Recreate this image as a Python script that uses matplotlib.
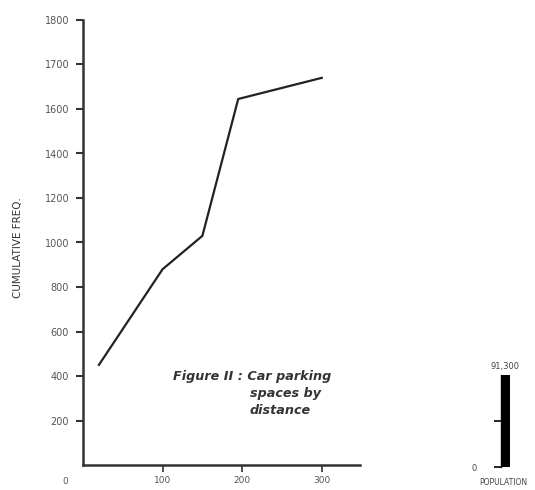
import matplotlib
matplotlib.use("Agg")
import matplotlib.pyplot as plt

# Data
distance = [20, 100, 150, 195, 300]
cum_freq = [450, 880, 1030, 1645, 1740]
y_tick_pos = [200, 400, 600, 800, 1000, 1200, 1400, 1600, 1800, 2000]
y_tick_labels = ['200', '400', '600', '800', '1000', '1200', '1400', '1600', '1700', '1800']
x_tick_pos = [100, 200, 300]
x_tick_labels = ['100', '200', '300']
population = 91300
pop_label = '91,300'

plt.rcParams['font.family'] = ['DejaVu Sans']
fig = plt.figure(figsize=(5.35, 4.9), dpi=100)

W, H = 535, 490
ax = fig.add_axes([83 / W, (H - 465) / H, (360 - 83) / W, (465 - 20) / H])
ax.plot(distance, cum_freq, color='#222222', lw=1.6)
ax.set_xlim(0, 348)
ax.set_ylim(0, 2000)
for s in ['top', 'right']:
    ax.spines[s].set_visible(False)
for s in ['left', 'bottom']:
    ax.spines[s].set_linewidth(1.8)
    ax.spines[s].set_color('#333333')
ax.set_yticks(y_tick_pos)
ax.set_yticklabels(y_tick_labels, fontsize=7, color='#555555')
ax.set_xticks(x_tick_pos)
ax.set_xticklabels(x_tick_labels, fontsize=6.5, color='#555555')
ax.tick_params(axis='y', length=5, width=1.5, pad=5, color='#333333')
ax.tick_params(axis='x', length=5, width=1.2, pad=3, color='#333333')
ax.text(-0.065, -0.037, '0', transform=ax.transAxes, fontsize=6.5,
        color='#555555', ha='center', va='center')
fig.text(18 / W, 1 - 248 / H, 'CUMULATIVE FREQ.', rotation=90, fontsize=7.5,
         color='#333333', ha='center', va='center')

cap_kw = dict(fontsize=9.2, style='italic', fontweight='bold', color='#333333',
              va='center', ha='left')
fig.text(173 / W, 1 - 376 / H, 'Figure II : Car parking', **cap_kw)
fig.text(250 / W, 1 - 393 / H, 'spaces by', **cap_kw)
fig.text(250 / W, 1 - 411 / H, 'distance', **cap_kw)

# Population bar
ax2 = fig.add_axes([490 / W, (H - 467) / H, 30 / W, (467 - 375) / H])
ax2.bar([0], [population], width=0.9, color='black')
ax2.set_xlim(-1.5, 1.5)
ax2.set_ylim(0, population)
for s in ['top', 'right', 'bottom']:
    ax2.spines[s].set_visible(False)
ax2.spines['left'].set_position(('data', -0.45))
ax2.spines['left'].set_linewidth(1.0)
ax2.set_xticks([])
ax2.set_yticks([0, population / 2])
ax2.set_yticklabels(['0', ''], fontsize=6, color='#444444')
ax2.tick_params(axis='y', length=5, width=1.2, pad=12)
ax2.text(0, population * 1.04, pop_label, fontsize=6, color='#444444',
         ha='center', va='bottom')
ax2.text(0.45, -0.17, 'POPULATION', transform=ax2.transAxes, fontsize=5.5,
         color='#444444', ha='center', va='center')

fig.savefig('out.png', dpi=100, facecolor='white')
